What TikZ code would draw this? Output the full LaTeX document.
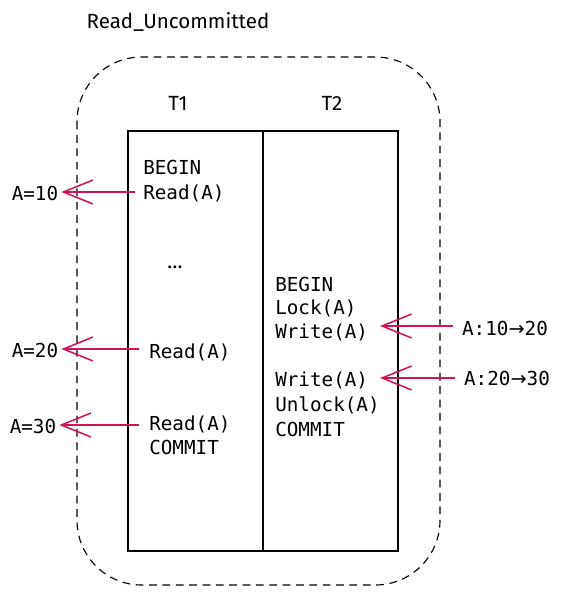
\documentclass[tikz,border=0pt]{standalone}
\usepackage{fontspec}
\setmainfont{Fira Sans}
\setmonofont{DejaVu Sans Mono}
\usepackage{xcolor}
\usetikzlibrary{arrows.meta, positioning}
\definecolor{arrowred}{HTML}{D0145A}

\begin{document}
\begin{tikzpicture}[x=0.025cm, y=-0.025cm,
    code/.style={anchor=base west, inner sep=0pt, font=\fontsize{13.7}{17}\selectfont\ttfamily},
    val/.style={anchor=base, inner sep=2pt, font=\fontsize{13.7}{17}\selectfont\ttfamily},
    hand/.style={font=\fontsize{14.6}{17}\selectfont},
    readarrow/.style={draw=arrowred, line width=1.1pt, -{Straight Barb[length=21pt, width=17pt]}}]
    \useasboundingbox (0,0) rectangle (565,597);
    % outer frame and the table
    \draw[dash pattern=on 5.5pt off 4pt, line width=0.8pt, rounded corners=46pt]
        (77,57) rectangle (440,585);
    \draw[line width=0.9pt] (128,131) rectangle (398,551);
    \draw[line width=0.9pt] (263,131) -- (263,551);
    \node[hand] (title) at (178,22) {Read\_Uncommitted};
    \node[hand] (t1) at (178,103) {T1};
    \node[hand] (t2) at (332,103) {T2};
    % T1 column
    \node[code] (begin1) at (143,175) {BEGIN};
    \node[code] (read1) at (143,199) {Read(A)};
    \node[hand] (dots) at (175,267) {…};
    \node[code] (read2) at (149,358) {Read(A)};
    \node[code] (read3) at (149,430) {Read(A)};
    \node[code] (commit1) at (149,454) {COMMIT};
    % T2 column
    \node[code] (begin2) at (275,291) {BEGIN};
    \node[code] (lock) at (275,314) {Lock(A)};
    \node[code] (write1) at (275,338) {Write(A)};
    \node[code] (write2) at (275,386) {Write(A)};
    \node[code] (unlock) at (275,411) {Unlock(A)};
    \node[code] (commit2) at (275,436) {COMMIT};
    % values
    \node[val] (a10) at (35,200) {A=10};
    \node[val] (a20) at (35,357) {A=20};
    \node[val] (a30) at (33,433) {A=30};
    \node[val] (w10) at (505,335) {A:10{\fontspec{DejaVu Sans}→}20};
    \node[val] (w20) at (507,385) {A:20{\fontspec{DejaVu Sans}→}30};
    % reads and writes
    \draw[readarrow] (135,192) -- (a10.east |- 135,192);
    \draw[readarrow] (139,349) -- (a20.east |- 139,349);
    \draw[readarrow] (139,425) -- (a30.east |- 139,425);
    \draw[readarrow] (w10.west |- 448,326) ++(-6,0) -- (380,326);
    \draw[readarrow] (w20.west |- 448,378) ++(-6,0) -- (380,378);
\end{tikzpicture}
\end{document}
